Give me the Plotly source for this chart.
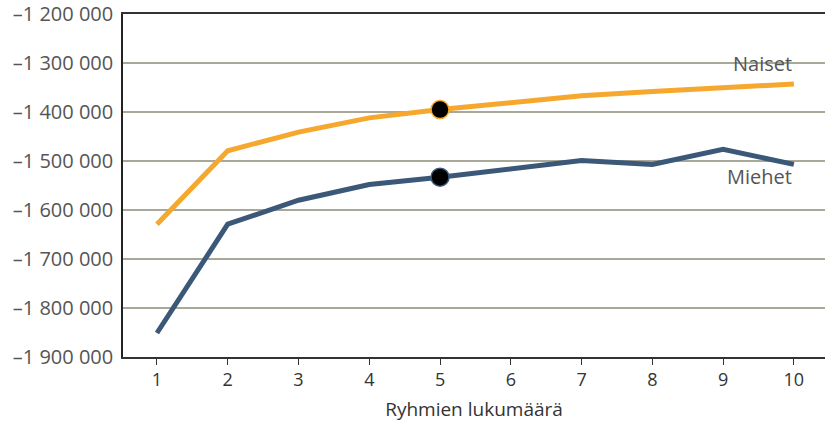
import plotly.graph_objects as go

groups = [1, 2, 3, 4, 5, 6, 7, 8, 9, 10]
naiset = [-1629000, -1479000, -1441000, -1412000, -1395000, -1382000, -1367000, -1358000, -1350000, -1343000]
miehet = [-1851000, -1629000, -1580000, -1548000, -1533000, -1517000, -1499000, -1507000, -1476000, -1507000]
highlight_x = [5]
ytick_vals = [-1200000, -1300000, -1400000, -1500000, -1600000, -1700000, -1800000, -1900000]
ytick_text = ["\u20131 200 000", "\u20131 300 000", "\u20131 400 000", "\u20131 500 000",
              "\u20131 600 000", "\u20131 700 000", "\u20131 800 000", "\u20131 900 000"]

ORANGE = "#F5A82D"
NAVY = "#3B5878"
FONT = "Open Sans, Noto Sans, sans-serif"

fig = go.Figure()
fig.add_trace(go.Scatter(x=groups, y=naiset, mode="lines", line=dict(color=ORANGE, width=5),
                         name="Naiset", showlegend=False, cliponaxis=False))
fig.add_trace(go.Scatter(x=groups, y=miehet, mode="lines", line=dict(color=NAVY, width=5),
                         name="Miehet", showlegend=False, cliponaxis=False))
hi_n = [naiset[groups.index(v)] for v in highlight_x]
hi_m = [miehet[groups.index(v)] for v in highlight_x]
fig.add_trace(go.Scatter(x=highlight_x, y=hi_n, mode="markers",
                         marker=dict(color="black", size=18, line=dict(color=ORANGE, width=1.5)),
                         showlegend=False))
fig.add_trace(go.Scatter(x=highlight_x, y=hi_m, mode="markers",
                         marker=dict(color="black", size=18, line=dict(color=NAVY, width=1.5)),
                         showlegend=False))

fig.add_annotation(x=10, y=naiset[-1], text="Naiset", showarrow=False, xanchor="right",
                   yanchor="bottom", yshift=5, font=dict(family=FONT, size=20, color="#555555"))
fig.add_annotation(x=10, y=miehet[-1], text="Miehet", showarrow=False, xanchor="right",
                   yanchor="top", yshift=3, font=dict(family=FONT, size=20, color="#555555"))

fig.update_layout(
    width=825, height=427,
    margin=dict(l=123, r=0, t=10, b=70),
    paper_bgcolor="white", plot_bgcolor="white",
    font=dict(family=FONT),
    xaxis=dict(range=[0.52, 10.44], tickvals=groups, ticks="outside", ticklen=6,
               tickcolor="#333333", showgrid=False, showline=True, linecolor="#333333",
               linewidth=1.5, zeroline=False, mirror=True,
               tickfont=dict(family=FONT, size=18, color="#333333"),
               title=dict(text="Ryhmien lukumäärä", font=dict(family=FONT, size=19, color="#333333"),
                          standoff=12)),
    yaxis=dict(range=[-1900000, -1200000], tickvals=ytick_vals, ticktext=ytick_text,
               showgrid=True, gridcolor="#A8A898", gridwidth=1.5, showline=True,
               linecolor="#222222", linewidth=1.5, zeroline=False, ticks="",
               ticklabelstandoff=4, ticklabeloverflow="allow",
               tickfont=dict(family=FONT, size=20, color="#555555")),
)
fig.write_html("out.html", config={"displayModeBar": False},
               post_script="document.body.style.margin='0';document.body.style.padding='0';")
